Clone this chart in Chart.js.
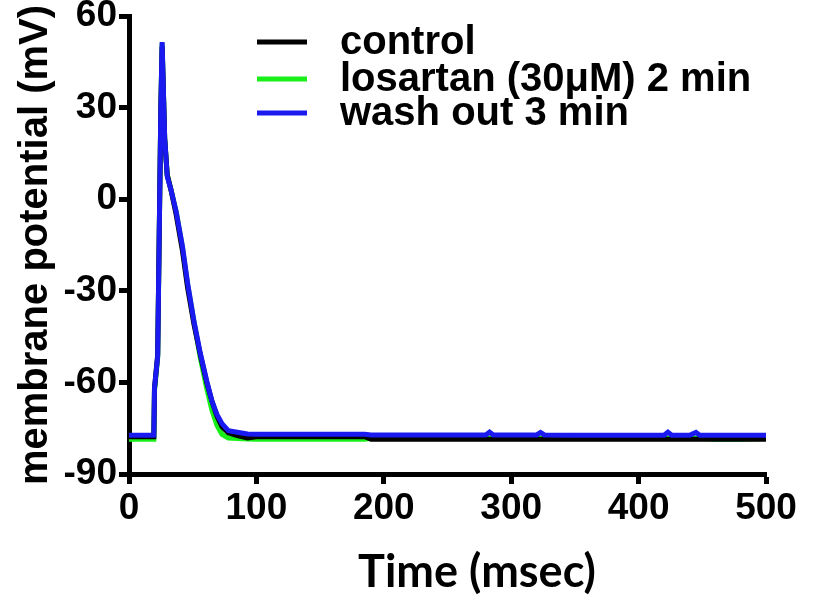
<!DOCTYPE html>
<html>
<head>
<meta charset="utf-8">
<script src="https://cdn.jsdelivr.net/npm/chart.js@4"></script>
<style>
  html, body { margin: 0; padding: 0; background: #fff; }
  #wrap { width: 823px; height: 600px; }
</style>
</head>
<body>
<div id="wrap"><canvas id="chart" width="823" height="600"></canvas></div>
<script>
// time points (msec)
const timeMs = [0, 19.5, 20, 22.5, 25, 26, 28, 30, 33, 37, 42, 46, 51, 56, 61, 65, 69, 73, 78, 85, 93, 100,
    150, 185, 190, 250, 280, 283, 286, 300, 320, 323, 326, 350, 420, 423, 426, 440, 445, 448, 460, 480, 500];

// membrane potential (mV) for each recording
const control = [-77.8, -77.8, -62, -51, 30, 50, 20, 8, 3, -5, -17, -29, -41, -51, -60, -66, -71, -74.5, -76.5, -77.4, -78.2, -77.8,
    -77.8, -77.8, -78.6, -78.6, -78.6, -78.6, -78.6, -78.6, -78.6, -78.6, -78.6, -78.6, -78.6, -78.6, -78.6, -78.6, -78.6, -78.6, -78.6, -78.6, -78.6];
const losartan = [-78.6, -78.6, -63, -52, 30, 51, 20, 8, 3, -4, -16, -28, -40, -52, -62, -69, -74, -77, -78.2, -78.4, -78.5, -78.6,
    -78.6, -78.6, -78.3, -78.3, -78.3, -78.3, -78.3, -78.3, -78.3, -78.3, -78.3, -78.3, -78.3, -78.3, -78.3, -78.3, -78.3, -78.3, -78.6, -78.6, -78.4];
const washout = [-77.3, -77.3, -62, -51.5, 30, 51.5, 20, 7.5, 3, -4, -15.5, -27.5, -40, -50.5, -59.5, -66, -70.5, -73.5, -75.8, -76.3, -76.9, -77.0,
    -77.0, -77.0, -77.2, -77.2, -77.2, -76.3, -77.2, -77.2, -77.2, -76.4, -77.2, -77.3, -77.3, -76.3, -77.3, -77.3, -76.4, -77.3, -77.3, -77.3, -77.3];

const seriesNames = ['control', 'losartan (30μM) 2 min', 'wash out 3 min'];
const seriesColors = ['#000000', '#19f019', '#1a1af0'];
const seriesValues = [control, losartan, washout];

const xTicks = [0, 100, 200, 300, 400, 500];
const yTicks = [-90, -60, -30, 0, 30, 60];

const tickFont = { family: 'Liberation Sans, Arial, sans-serif', size: 37, weight: 'bold' };

// legend + x title drawn at the positions of the original figure
const overlay = {
    id: 'overlay',
    afterDraw(chart) {
        const ctx = chart.ctx;
        ctx.save();
        ctx.textBaseline = 'middle';
        ctx.textAlign = 'left';
        ctx.font = 'bold 40px "Liberation Sans", Arial, sans-serif';
        const rows = [42, 79, 113];
        chart.data.datasets.forEach((ds, i) => {
            ctx.strokeStyle = ds.borderColor;
            ctx.lineWidth = 5;
            ctx.beginPath();
            ctx.moveTo(257, rows[i]);
            ctx.lineTo(307, rows[i]);
            ctx.stroke();
            ctx.fillStyle = '#000';
            ctx.fillText(ds.label, 340, rows[i] + 1);
        });
        ctx.textAlign = 'center';
        ctx.font = 'bold 45px Lato, "Open Sans", sans-serif';
        ctx.fillText('Time (msec)', 477, 572);
        ctx.restore();
    }
};

function noPad(scale) {
    scale.paddingTop = 0;
    scale.paddingBottom = 0;
    scale.paddingLeft = 0;
    scale.paddingRight = 0;
}

new Chart(document.getElementById('chart'), {
    type: 'line',
    data: {
        datasets: seriesValues.map((vals, i) => ({
            label: seriesNames[i],
            data: timeMs.map((t, j) => ({ x: t, y: vals[j] })),
            borderColor: seriesColors[i],
            borderWidth: 5,
            pointRadius: 0,
            tension: 0,
            fill: false,
            order: [1, 2, 0][i]
        }))
    },
    options: {
        responsive: false,
        animation: false,
        layout: { padding: { left: 0, right: 57, top: 16, bottom: 0 } },
        plugins: { legend: { display: false }, tooltip: { enabled: false } },
        scales: {
            x: {
                type: 'linear',
                min: 0,
                max: 500,
                afterBuildTicks: s => { s.ticks = xTicks.map(v => ({ value: v })); },
                afterFit: s => { s.height = 126; noPad(s); },
                ticks: { color: '#000', font: tickFont, padding: 3, maxRotation: 0 },
                grid: { drawOnChartArea: false, drawTicks: true, tickLength: 10, tickWidth: 5, tickColor: '#000' },
                border: { display: true, color: '#000', width: 5 }
            },
            y: {
                min: -90,
                max: 60,
                afterBuildTicks: s => { s.ticks = yTicks.map(v => ({ value: v })); },
                afterFit: s => { s.width = 129; noPad(s); },
                ticks: { color: '#000', font: tickFont, padding: 2 },
                grid: { drawOnChartArea: false, drawTicks: true, tickLength: 10, tickWidth: 5, tickColor: '#000' },
                border: { display: true, color: '#000', width: 5 },
                title: {
                    display: true,
                    text: 'membrane potential (mV)',
                    color: '#000',
                    font: { family: 'Liberation Sans, Arial, sans-serif', size: 40, weight: 'bold' },
                    padding: { top: 12, bottom: 0 }
                }
            }
        }
    },
    plugins: [overlay]
});
</script>
</body>
</html>
